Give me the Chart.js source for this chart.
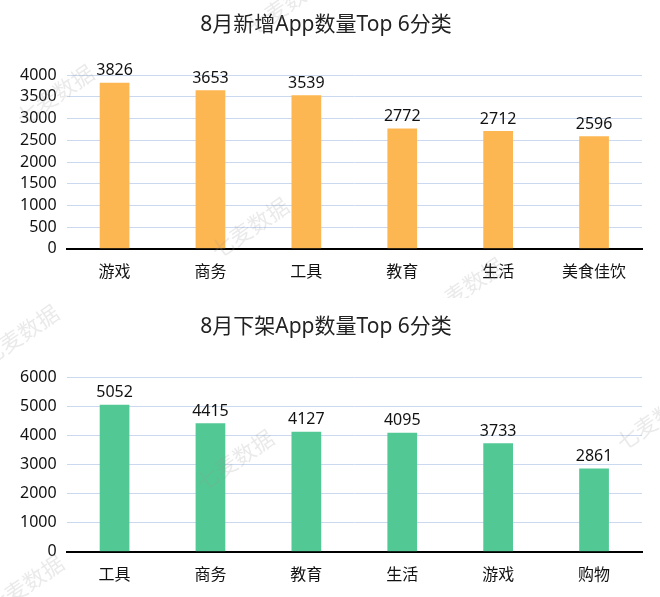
<!DOCTYPE html>
<html><head><meta charset="utf-8">
<script src="https://cdn.jsdelivr.net/npm/chart.js@4.4.0/dist/chart.umd.min.js"></script>
<style>
html,body{margin:0;padding:0;background:#fff;}
#wrap{position:relative;width:660px;height:597px;}
.box{position:absolute;left:0;width:660px;}
#b1{top:0;height:298px;}
#b2{top:298px;height:299px;}
</style></head>
<body><div id="wrap"><div class="box" id="b1"><canvas id="c1"></canvas></div><div class="box" id="b2"><canvas id="c2"></canvas></div></div>
<script>
const newCategories = ['游戏','商务','工具','教育','生活','美食佳饮'];
const newValues = [3826,3653,3539,2772,2712,2596];
const newTickValues = [0,500,1000,1500,2000,2500,3000,3500,4000];
const removedCategories = ['工具','商务','教育','生活','游戏','购物'];
const removedValues = [5052,4415,4127,4095,3733,2861];
const removedTickValues = [0,1000,2000,3000,4000,5000,6000];

const FONT = '"Noto Sans", "Noto Sans CJK SC", sans-serif';

const valueLabels = {
  id:'valueLabels',
  afterDatasetsDraw(chart){
    const ctx = chart.ctx;
    const meta = chart.getDatasetMeta(0);
    ctx.save();
    ctx.font = '16px ' + FONT;
    ctx.fillStyle = '#111';
    ctx.textAlign = 'center';
    ctx.textBaseline = 'bottom';
    meta.data.forEach((bar,i)=>{
      ctx.fillText(String(chart.data.datasets[0].data[i]), bar.x, bar.y - 4);
    });
    ctx.restore();
  }
};

function watermark(marks){
  return {
    id:'watermark',
    afterDraw(chart){
      const ctx = chart.ctx;
      ctx.save();
      ctx.font = '22px "Noto Sans CJK SC", sans-serif';
      ctx.fillStyle = 'rgba(150,150,150,0.2)';
      ctx.textAlign = 'center';
      ctx.textBaseline = 'middle';
      marks.forEach(m=>{
        ctx.save();
        ctx.translate(m[0], m[1]);
        ctx.rotate(-0.6);
        ctx.fillText('七麦数据', 0, 0);
        ctx.restore();
      });
      ctx.restore();
    }
  };
}

function makeChart(id, title, cats, vals, tickValues, color, marks, pad){
  return new Chart(document.getElementById(id), {
    type:'bar',
    data:{labels:cats, datasets:[{data:vals, backgroundColor:color, borderWidth:0, barPercentage:0.62, categoryPercentage:0.5}]},
    options:{
      responsive:true, maintainAspectRatio:false, animation:false,
      layout:{padding:{left:10,right:18,top:0,bottom:pad.b}},
      plugins:{
        legend:{display:false}, tooltip:{enabled:false},
        title:{display:true, text:title, color:'#222', font:{family:FONT, size:21, weight:'normal'}, padding:{top:pad.t,bottom:pad.tb}}
      },
      scales:{
        x:{grid:{display:false}, border:{display:true,color:'#000',width:2},
           ticks:{color:'#111', font:{family:FONT,size:16}, padding:6}},
        y:{min:tickValues[0], max:tickValues[tickValues.length-1],
           afterBuildTicks:(scale)=>{ scale.ticks = tickValues.map(v=>({value:v})); },
           grid:{color:'#cad9ef', drawTicks:false, lineWidth:1}, border:{display:false},
           ticks:{autoSkip:false, color:'#111', font:{family:FONT,size:16}, padding:10, callback:(v)=>String(v)}}
      }
    },
    plugins:[valueLabels, watermark(marks)]
  });
}

makeChart('c1','8月新增App数量Top 6分类', newCategories, newValues, newTickValues, '#fdb752',
  [[55,95],[250,228],[465,288],[285,5]], {t:12,tb:38,b:10});
makeChart('c2','8月下架App数量Top 6分类', removedCategories, removedValues, removedTickValues, '#52c994',
  [[20,37],[235,162],[655,122],[25,287]], {t:16,tb:38,b:6});
</script></body></html>
